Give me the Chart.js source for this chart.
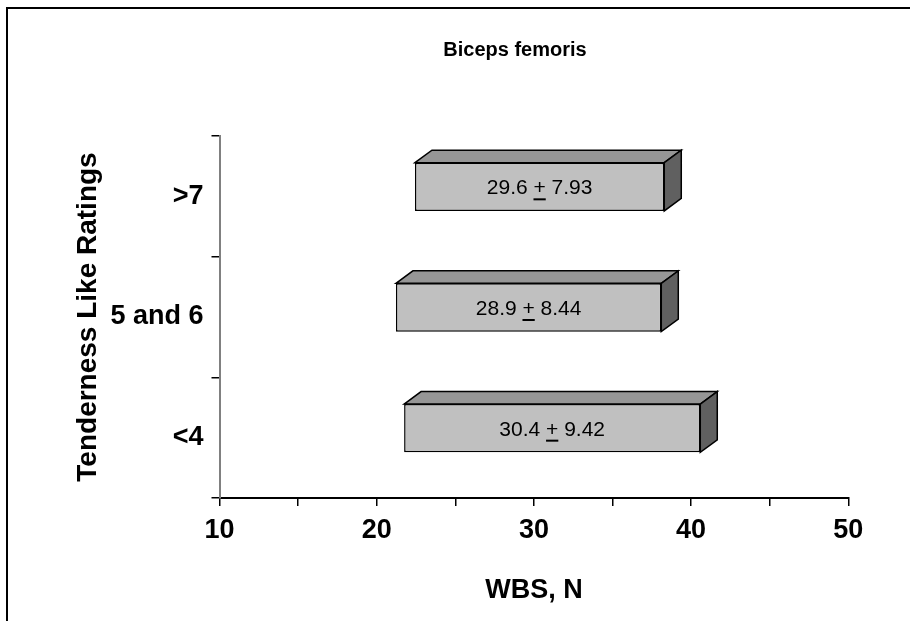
<!DOCTYPE html>
<html>
<head>
<meta charset="utf-8">
<script src="https://cdn.jsdelivr.net/npm/chart.js@4/dist/chart.umd.min.js"></script>
<style>
  html, body { margin: 0; padding: 0; background: #ffffff; }
  #wrap { width: 910px; height: 621px; }
</style>
</head>
<body>
<div id="wrap"><canvas id="c" width="910" height="621"></canvas></div>
<script>
// Tenderness rating groups (top to bottom) and WBS mean ± SD for each
const categories = ['>7', '5 and 6', '<4'];
const means = [29.6, 28.9, 30.4];
const sds = [7.93, 8.44, 9.42];

// Value axis range and tick spacing
const xMin = 10;
const xMax = 50;
const xStep = 5;
const xLabelEvery = 10;

const FONT = "'Liberation Sans', Arial, Helvetica, sans-serif";

// Each bar spans mean - SD .. mean + SD
const ranges = means.map((m, i) => [m - sds[i], m + sds[i]]);

// Front face offset and depth of the extruded box look
const FRONT_DX = 12, FRONT_DY = -9.5;
const DEPTH_DX = 17, DEPTH_DY = -12.5;

const framePlugin = {
  id: 'frame',
  beforeDraw(chart) {
    const ctx = chart.ctx;
    ctx.save();
    ctx.fillStyle = '#ffffff';
    ctx.fillRect(0, 0, chart.width, chart.height);
    ctx.strokeStyle = '#000000';
    ctx.lineWidth = 2;
    ctx.beginPath();
    ctx.moveTo(7, chart.height);
    ctx.lineTo(7, 8);
    ctx.lineTo(chart.width, 8);
    ctx.stroke();
    ctx.restore();
  },
  afterDraw(chart) {
    const ctx = chart.ctx;
    ctx.save();
    ctx.fillStyle = '#000000';
    ctx.textAlign = 'center';
    ctx.textBaseline = 'middle';
    ctx.font = 'bold 20px ' + FONT;
    ctx.fillText('Biceps femoris', 515, 50);
    ctx.font = 'bold 27px ' + FONT;
    ctx.fillText('WBS, N', 534, 591);
    ctx.font = 'bold 28px ' + FONT;
    ctx.translate(88, 317);
    ctx.rotate(-Math.PI / 2);
    ctx.fillText('Tenderness Like Ratings', 0, 0);
    ctx.restore();
  }
};

const boxPlugin = {
  id: 'box3d',
  beforeDatasetsDraw(chart) {
    chart.ctx.save();
    chart.ctx.translate(FRONT_DX, FRONT_DY);
  },
  afterDatasetsDraw(chart) {
    const ctx = chart.ctx;
    const meta = chart.getDatasetMeta(0);
    meta.data.forEach((el, i) => {
      const p = el.getProps(['x', 'y', 'base', 'height'], true);
      const x0 = Math.min(p.x, p.base), x1 = Math.max(p.x, p.base);
      const y0 = p.y - p.height / 2, y1 = p.y + p.height / 2;
      ctx.lineWidth = 1.5;
      ctx.strokeStyle = '#000000';
      ctx.lineJoin = 'miter';
      // top face
      ctx.beginPath();
      ctx.moveTo(x0, y0);
      ctx.lineTo(x0 + DEPTH_DX, y0 + DEPTH_DY);
      ctx.lineTo(x1 + DEPTH_DX, y0 + DEPTH_DY);
      ctx.lineTo(x1, y0);
      ctx.closePath();
      ctx.fillStyle = '#969696';
      ctx.fill();
      ctx.stroke();
      // side face
      ctx.beginPath();
      ctx.moveTo(x1, y0);
      ctx.lineTo(x1 + DEPTH_DX, y0 + DEPTH_DY);
      ctx.lineTo(x1 + DEPTH_DX, y1 + DEPTH_DY);
      ctx.lineTo(x1, y1);
      ctx.closePath();
      ctx.fillStyle = '#606060';
      ctx.fill();
      ctx.stroke();

      // value label: mean ± SD with an underlined plus sign
      const a = means[i].toFixed(1) + ' ';
      const b = '+';
      const c = ' ' + sds[i].toFixed(2);
      ctx.font = '21px ' + FONT;
      ctx.fillStyle = '#000000';
      ctx.textBaseline = 'alphabetic';
      ctx.textAlign = 'left';
      const wa = ctx.measureText(a).width;
      const wb = ctx.measureText(b).width;
      const wc = ctx.measureText(c).width;
      const total = wa + wb + wc;
      const cx = (x0 + x1) / 2;
      const base = p.y + 7.5;
      let tx = cx - total / 2;
      ctx.fillText(a, tx, base);
      ctx.fillText(b, tx + wa, base);
      ctx.fillText(c, tx + wa + wb, base);
      ctx.fillRect(tx + wa, base + 4, wb, 2);
    });
    ctx.restore();
  }
};

new Chart(document.getElementById('c'), {
  type: 'bar',
  data: {
    labels: categories,
    datasets: [{
      data: ranges,
      backgroundColor: '#C0C0C0',
      borderColor: '#000000',
      borderWidth: 1.5,
      borderSkipped: false,
      barPercentage: 0.4,
      categoryPercentage: 1.0,
      clip: false
    }]
  },
  options: {
    indexAxis: 'y',
    responsive: false,
    animation: false,
    events: [],
    layout: { padding: { top: 136, right: 61.7, left: 0, bottom: 0 } },
    plugins: {
      legend: { display: false },
      title: { display: false },
      tooltip: { enabled: false }
    },
    scales: {
      x: {
        type: 'linear',
        min: xMin,
        max: xMax,
        afterFit(scale) { scale.height = 123; },
        ticks: {
          stepSize: xStep,
          autoSkip: false,
          maxRotation: 0,
          padding: 8,
          color: '#000000',
          font: { family: FONT, size: 27, weight: 'bold' },
          callback: (v) => (v % xLabelEvery === 0 ? String(v) : '')
        },
        grid: {
          drawOnChartArea: false,
          drawTicks: true,
          tickLength: 8,
          color: '#000000',
          lineWidth: 1.5
        },
        border: { display: true, color: '#000000', width: 2 }
      },
      y: {
        type: 'category',
        afterFit(scale) { scale.width = 219.5; },
        ticks: {
          padding: 8,
          color: '#000000',
          font: { family: FONT, size: 27, weight: 'bold' }
        },
        grid: {
          offset: true,
          drawOnChartArea: false,
          drawTicks: true,
          tickLength: 8,
          color: '#000000',
          lineWidth: 1.5
        },
        border: { display: true, color: '#808080', width: 2 }
      }
    }
  },
  plugins: [framePlugin, boxPlugin]
});
</script>
</body>
</html>
